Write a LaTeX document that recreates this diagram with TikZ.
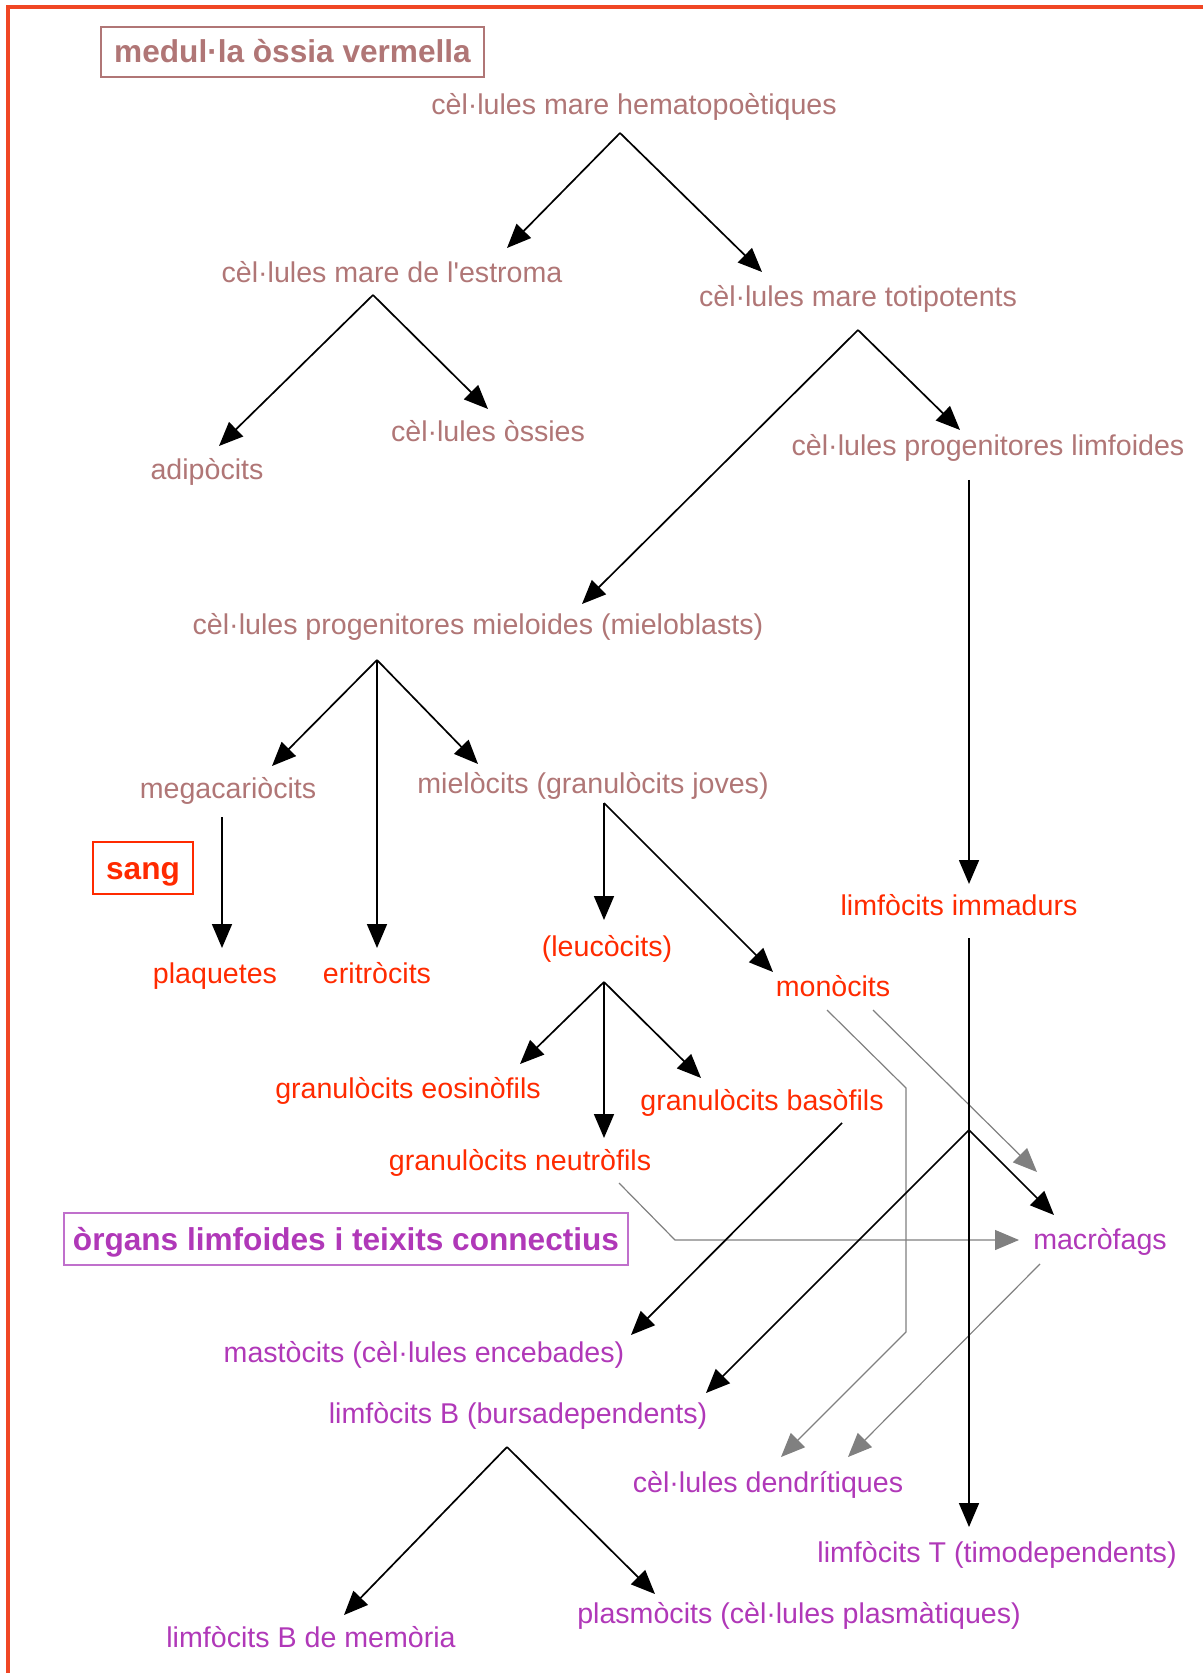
\documentclass[tikz,border=0pt]{standalone}
\usepackage{fontspec}
\setmainfont{Liberation Sans}
\usetikzlibrary{arrows.meta}
\definecolor{rosa}{RGB}{176,118,118}
\definecolor{vermell}{RGB}{255,42,0}
\definecolor{marc}{RGB}{240,70,36}
\definecolor{lila}{RGB}{176,56,184}
\definecolor{lilaclar}{RGB}{192,112,204}
\definecolor{gris}{RGB}{128,128,128}
\tikzset{
  cel/.style={anchor=base, inner sep=0pt, font=\fontsize{14.3}{17}\selectfont},
  caixa/.style={draw, line width=0.9pt, inner sep=0pt, text height=11pt, text depth=0pt,
    font=\bfseries\fontsize{15.8}{18}\selectfont},
  fl/.style={-{Triangle[length=12pt,width=10pt]}, line width=0.85pt},
  flg/.style={fl, gris, line width=0.6pt},
}
\begin{document}
\begin{tikzpicture}[x=0.5pt, y=-0.5pt]
\useasboundingbox (0,0) rectangle (1203,1673);
% Marc
\draw [marc, line width=1.6pt] (8,1673) -- (8,7) -- (1203,7);
% Caixes
\node [caixa, rosa, minimum width=191.5pt, minimum height=25pt] (medul) at (292.5,52) {medul·la òssia vermella};
\node [caixa, vermell, minimum width=50pt, minimum height=26pt] (sang) at (143,868) {sang};
\node [caixa, lilaclar, minimum width=282pt, minimum height=26pt, text=lila] (organs) at (346,1239) {òrgans limfoides i teixits connectius};
% Medul·la
\node [cel, rosa] (hema) at (634,115) {cèl·lules mare hematopoètiques};
\node [cel, rosa] (estr) at (392,283) {cèl·lules mare de l\textquotesingle estroma};
\node [cel, rosa] (toti) at (858,307) {cèl·lules mare totipotents};
\node [cel, rosa] (adip) at (207,480) {adipòcits};
\node [cel, rosa] (ossi) at (488,442) {cèl·lules òssies};
\node [cel, rosa] (limf) at (988,456) {cèl·lules progenitores limfoides};
\node [cel, rosa] (miel) at (478,634) {cèl·lules progenitores mieloides (mieloblasts)};
\node [cel, rosa] (mega) at (228,798) {megacariòcits};
\node [cel, rosa] (mloc) at (593,793) {mielòcits (granulòcits joves)};
% Sang
\node [cel, vermell] (imma) at (959,915) {limfòcits immadurs};
\node [cel, vermell] (plaq) at (215,983) {plaquetes};
\node [cel, vermell] (erit) at (377,983) {eritròcits};
\node [cel, vermell] (leuc) at (607,956) {(leucòcits)};
\node [cel, vermell] (mono) at (833,996) {monòcits};
\node [cel, vermell] (eosi) at (408,1098) {granulòcits eosinòfils};
\node [cel, vermell] (baso) at (762,1110) {granulòcits basòfils};
\node [cel, vermell] (neut) at (520,1170) {granulòcits neutròfils};
% Organs
\node [cel, lila] (macr) at (1100,1249) {macròfags};
\node [cel, lila] (mast) at (424,1362) {mastòcits (cèl·lules encebades)};
\node [cel, lila] (limB) at (518,1423) {limfòcits B (bursadependents)};
\node [cel, lila] (dend) at (768,1492) {cèl·lules dendrítiques};
\node [cel, lila] (limT) at (997,1562) {limfòcits T (timodependents)};
\node [cel, lila] (memo) at (311,1647) {limfòcits B de memòria};
\node [cel, lila] (plas) at (799,1623) {plasmòcits (cèl·lules plasmàtiques)};
% Punts de sortida
\coordinate (hema-o) at (620,133);
\coordinate (estr-o) at (373,295);
\coordinate (toti-o) at (858,330);
\coordinate (limf-o) at (969,480);
\coordinate (miel-o) at (377,660);
\coordinate (mega-o) at (222,817);
\coordinate (mloc-o) at (604,803);
\coordinate (leuc-o) at (604,982);
\coordinate (baso-o) at (842,1123);
\coordinate (imma-o) at (969,938);
\coordinate (imma-b) at (969,1130);
\coordinate (limB-o) at (507,1447);
\coordinate (mono-a) at (827,1010);
\coordinate (mono-b) at (873,1010);
\coordinate (neut-o) at (619,1183);
\coordinate (macr-o) at (1040,1264);
% Punts d'arribada
\coordinate (estr-i) at (507,248);
\coordinate (toti-i) at (762,272);
\coordinate (adip-i) at (219,446);
\coordinate (ossi-i) at (488,409);
\coordinate (miel-i) at (582,604);
\coordinate (limf-i) at (960,430);
\coordinate (imma-i) at (969,884);
\coordinate (mega-i) at (272,766);
\coordinate (erit-i) at (377,948);
\coordinate (mloc-i) at (478,764);
\coordinate (plaq-i) at (222,948);
\coordinate (leuc-i) at (604,920);
\coordinate (mono-i) at (773,972);
\coordinate (eosi-i) at (520,1064);
\coordinate (neut-i) at (604,1138);
\coordinate (baso-i) at (701,1078);
\coordinate (mast-i) at (631,1335);
\coordinate (limT-i) at (969,1527);
\coordinate (macr-i) at (1054,1215);
\coordinate (limB-i) at (706,1393);
\coordinate (memo-i) at (344,1615);
\coordinate (plas-i) at (655,1594);
\coordinate (dend-a) at (781,1457);
\coordinate (dend-b) at (848,1457);
\coordinate (macr-g) at (1037,1172);
\coordinate (macr-h) at (1019,1240);
% Fletxes grises
\draw [flg] (mono-a) -- ++(79,78) -- ++(0,244) -- (dend-a);
\draw [flg] (mono-b) -- (macr-g);
\draw [flg] (neut-o) -- ++(56,57) -- (macr-h);
\draw [flg] (macr-o) -- (dend-b);
% Fletxes negres
\draw [fl] (hema-o) -- (estr-i);
\draw [fl] (hema-o) -- (toti-i);
\draw [fl] (estr-o) -- (adip-i);
\draw [fl] (estr-o) -- (ossi-i);
\draw [fl] (toti-o) -- (miel-i);
\draw [fl] (toti-o) -- (limf-i);
\draw [fl] (limf-o) -- (imma-i);
\draw [fl] (miel-o) -- (mega-i);
\draw [fl] (miel-o) -- (erit-i);
\draw [fl] (miel-o) -- (mloc-i);
\draw [fl] (mega-o) -- (plaq-i);
\draw [fl] (mloc-o) -- (leuc-i);
\draw [fl] (mloc-o) -- (mono-i);
\draw [fl] (leuc-o) -- (eosi-i);
\draw [fl] (leuc-o) -- (neut-i);
\draw [fl] (leuc-o) -- (baso-i);
\draw [fl] (baso-o) -- (mast-i);
\draw [fl] (imma-o) -- (limT-i);
\draw [fl] (imma-b) -- (macr-i);
\draw [fl] (imma-b) -- (limB-i);
\draw [fl] (limB-o) -- (memo-i);
\draw [fl] (limB-o) -- (plas-i);
\end{tikzpicture}
\end{document}
